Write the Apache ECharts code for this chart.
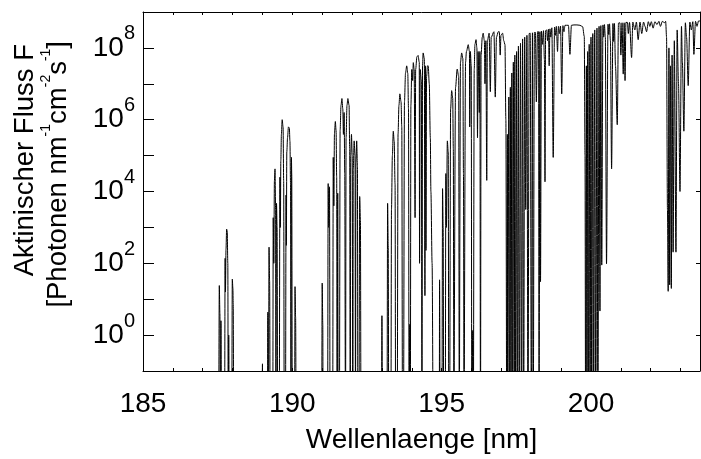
<!DOCTYPE html>
<html>
<head>
<meta charset="utf-8">
<title>Aktinischer Fluss</title>
<script src="https://cdn.jsdelivr.net/npm/echarts@6/dist/echarts.min.js"></script>
<style>
  html, body { margin: 0; padding: 0; background: #fff; }
  .echarts { width: 701px; height: 459px; }
</style>
</head>
<body>
<div class="echarts"></div>
<script>
// spectrum, band by band: [wavelength nm, log10 of flux]
// (-3 = far below the plotted range, the curve is cut at the bottom axis)
const band1 = [[185.0,-3],[187.53,-3],[187.555,1.38],[187.575,0.6],[187.59,-3],[187.61,0.4],[187.63,-3],[187.73,-3],[187.75,2.14],[187.76,1.2],[187.78,2.4],[187.80,2.95],[187.82,2.9],[187.84,2.0],[187.855,-3],[187.87,0.0],[187.89,-3],[187.97,-3],[187.99,1.56],[188.01,1.3],[188.02,0.9],[188.04,-3]];
const band2 = [[188.98,-3],[189.00,-0.8],[189.01,-3],[189.165,-3],[189.18,0.64],[189.20,-3],[189.22,2.45],[189.24,1.5],[189.26,-3],[189.345,-3],[189.36,3.27],[189.38,2.0],[189.40,4.3],[189.42,4.63],[189.44,3.5],[189.45,-3],[189.47,3.67],[189.49,3.0],[189.51,-3],[189.56,-3],[189.585,4.4],[189.60,3.0],[189.615,4.86],[189.635,5.6],[189.66,6.0],[189.69,5.8],[189.71,4.3],[189.73,-3],[189.77,-3],[189.79,3.9],[189.80,2.5],[189.815,5.1],[189.84,5.5],[189.87,5.8],[189.90,5.77],[189.92,5.4],[189.94,4.2],[189.955,-3],[189.97,4.95],[189.98,4.5],[190.00,-3],[190.075,-3],[190.09,1.35],[190.11,0.5],[190.13,-3]];
const band3 = [[190.98,-3],[191.00,1.45],[191.02,0.3],[191.03,-3],[191.18,-3],[191.20,4.22],[191.22,3.0],[191.245,4.13],[191.265,-3],[191.35,-3],[191.37,4.95],[191.39,3.6],[191.41,5.6],[191.44,5.95],[191.465,5.7],[191.485,4.4],[191.50,-3],[191.52,3.95],[191.535,-3],[191.575,-3],[191.60,5.7],[191.63,6.4],[191.66,6.59],[191.69,6.3],[191.71,5.59],[191.735,6.2],[191.755,4.5],[191.78,-3],[191.80,5.5],[191.83,6.4],[191.86,6.59],[191.90,6.4],[191.92,5.2],[191.94,-3],[191.955,5.0],[191.98,5.59],[192.005,5.0],[192.025,-3],[192.04,4.6],[192.07,5.41],[192.10,5.0],[192.115,-3],[192.13,4.8],[192.155,5.41],[192.18,4.7],[192.195,-3],[192.23,-3],[192.255,3.86],[192.28,3.2],[192.30,-3]];
const band4 = [[192.985,-3],[193.00,0.54],[193.02,-3],[193.17,-3],[193.19,3.67],[193.21,2.5],[193.23,-3],[193.30,-3],[193.32,3.5],[193.35,5.0],[193.38,5.68],[193.41,5.4],[193.44,4.2],[193.46,-3],[193.51,-3],[193.54,5.6],[193.57,6.4],[193.60,6.72],[193.64,6.5],[193.665,5.8],[193.69,-3],[193.72,-3],[193.755,6.5],[193.79,7.3],[193.83,7.5],[193.865,7.3],[193.89,6.3],[193.91,-3],[193.93,0.3],[193.95,-3],[193.97,6.4],[194.00,7.4],[194.03,7.09],[194.05,7.59],[194.08,7.4],[194.11,3.27],[194.13,7.4],[194.17,7.75],[194.21,7.79],[194.25,7.6],[194.26,2.0],[194.28,7.4],[194.32,7.1],[194.34,-3],[194.36,7.5],[194.38,7.86],[194.42,7.7],[194.44,1.1],[194.455,7.5],[194.475,2.36],[194.495,7.2],[194.525,7.5],[194.55,7.5],[194.585,7.0],[194.62,5.5],[194.64,4.0],[194.68,2.0],[194.72,-3]];
const band5 = [[194.92,-3],[194.93,1.54],[194.95,-3],[195.01,-3],[195.03,4.08],[195.05,3.0],[195.07,-3],[195.12,-3],[195.14,4.5],[195.16,3.0],[195.19,5.41],[195.22,5.1],[195.24,-3],[195.265,-3],[195.30,6.3],[195.335,6.81],[195.37,6.6],[195.39,5.2],[195.41,-3],[195.43,-3],[195.465,6.9],[195.52,7.41],[195.57,7.2],[195.59,-3],[195.61,-3],[195.63,7.6],[195.67,7.86],[195.71,7.7],[195.73,4.5],[195.75,-3],[195.77,-3],[195.80,7.6],[195.83,7.9],[195.89,8.09],[195.93,7.9],[195.94,5.8],[195.96,7.9],[195.99,7.5],[196.01,-3],[196.04,0.13],[196.06,-3],[196.09,7.4],[196.115,8.1],[196.15,8.23],[196.18,8.0],[196.20,5.5],[196.22,7.9],[196.26,6.2],[196.28,7.9],[196.30,-3],[196.32,7.8],[196.36,8.3],[196.39,8.41],[196.43,8.2],[196.45,7.0],[196.48,8.2],[196.51,4.31],[196.53,8.2],[196.59,8.41],[196.63,6.78],[196.66,8.3],[196.75,8.45],[196.795,6.63],[196.835,8.3],[196.895,8.45],[196.93,8.45],[196.96,7.8],[196.985,8.35],[197.04,8.41],[197.08,8.2],[197.12,8.09],[197.15,6.0],[197.18,-3]];
const band6 = [[197.20,5.59],[197.21,-3],[197.25,6.63],[197.27,-3],[197.30,6.9],[197.32,-3],[197.35,7.3],[197.37,-3],[197.40,7.6],[197.43,-3],[197.45,7.8],[197.48,-3],[197.51,7.9],[197.54,-3],[197.57,8.05],[197.60,-3],[197.64,8.13],[197.675,-3],[197.71,8.25],[197.745,-3],[197.78,8.3],[197.815,3.5],[197.855,8.35],[197.89,-3],[197.93,8.4],[197.965,8.41],[198.005,-3],[198.04,8.42],[198.065,-3],[198.105,8.43],[198.14,8.43],[198.17,6.5],[198.21,8.45],[198.245,8.45],[198.26,-3],[198.29,8.45],[198.31,1.49],[198.34,8.47],[198.375,8.1],[198.41,8.48],[198.44,7.68],[198.46,4.27],[198.48,8.48],[198.515,8.5],[198.545,8.2],[198.575,8.52],[198.60,7.5],[198.625,8.53],[198.655,8.3],[198.69,8.56],[198.735,4.95],[198.78,8.58],[198.81,8.35],[198.84,8.6],[198.88,7.9],[198.91,8.6],[198.945,8.4],[198.98,8.61],[199.02,6.72],[199.06,8.62],[199.095,8.45],[199.13,8.63],[199.18,8.63],[199.245,8.63],[199.295,7.82],[199.345,8.63],[199.43,8.64],[199.53,8.64],[199.63,8.63],[199.72,8.59],[199.775,8.32],[199.80,5.0],[199.82,-3]];
const band7 = [[199.845,7.5],[199.865,-3],[199.89,7.9],[199.915,-3],[199.94,8.1],[199.97,-3],[200.00,8.3],[200.025,-3],[200.06,8.4],[200.09,-3],[200.125,8.5],[200.16,-3],[200.20,8.55],[200.23,-3],[200.27,8.6],[200.30,0.67],[200.33,8.62],[200.36,1.95],[200.40,8.64],[200.425,8.3],[200.45,8.65],[200.48,8.3],[200.52,1.99],[200.57,8.66],[200.595,8.37],[200.62,8.67],[200.65,8.2],[200.69,4.63],[200.735,8.68],[200.76,8.18],[200.785,8.68],[200.82,7.5],[200.88,5.86],[200.92,8.69],[200.97,8.7],[201.00,7.8],[201.04,8.7],[201.08,7.27],[201.11,8.7],[201.14,7.09],[201.17,8.71],[201.22,8.71],[201.25,8.4],[201.29,8.71],[201.36,7.73],[201.40,8.72],[201.47,8.5],[201.52,8.72],[201.58,8.23],[201.64,8.72],[201.70,8.4],[201.76,8.72],[201.81,8.6],[201.86,8.45],[201.92,8.73],[201.97,8.6],[202.02,8.73],[202.08,8.55],[202.14,8.73],[202.21,8.65],[202.275,8.74],[202.325,8.6],[202.39,8.74],[202.46,8.7],[202.50,8.74]];
const band8 = [[202.53,8.3],[202.56,3.5],[202.585,1.22],[202.61,8.0],[202.635,1.4],[202.66,7.5],[202.69,1.3],[202.715,7.8],[202.75,2.31],[202.79,8.2],[202.845,2.31],[202.885,8.5],[202.93,7.0],[202.98,4.0],[203.03,8.6],[203.06,7.6],[203.11,5.68],[203.16,8.7],[203.20,8.3],[203.255,6.95],[203.31,8.72],[203.36,8.5],[203.41,8.73],[203.445,7.82],[203.50,8.74],[203.55,8.6],[203.60,8.75],[203.65,8.75]];

const xLabels = [185, 190, 195, 200];
const xTicks = [186, 187, 188, 189, 190, 191, 192, 193, 194, 195, 196, 197, 198, 199, 200, 201, 202, 203];
const yLabels = [0, 2, 4, 6, 8];        // exponents shown as 10^n
const yTicks = [0, 1, 2, 3, 4, 5, 6, 7, 8];

window.addEventListener('load', function () {
    let myChart = echarts.init(document.querySelector('.echarts'));
    const font = 'Liberation Sans';
    const spectrum = [].concat(band1, band2, band3, band4, band5, band6, band7, band8);
    const frame = { onZero: false, lineStyle: { color: '#000', width: 1 } };

    let option = {
        animation: false,
        grid: { left: 143, right: 1, top: 12, bottom: 81 },
        xAxis: [{
            type: 'value', position: 'bottom', min: 185, max: 203.65,
            axisLine: frame,
            axisTick: { inside: true, length: 3, customValues: xTicks, lineStyle: { color: '#000' } },
            axisLabel: {
                customValues: xLabels, margin: 19, color: '#000',
                fontSize: 28, fontFamily: font,
                formatter: function (v) { return String(v); }
            },
            splitLine: { show: false },
            name: 'Wellenlaenge [nm]', nameLocation: 'middle', nameGap: 55,
            nameTextStyle: { color: '#000', fontSize: 28, fontFamily: font }
        }, {
            type: 'value', position: 'top', min: 185, max: 203.65,
            axisLine: frame,
            axisTick: { inside: true, length: 3, customValues: xTicks, lineStyle: { color: '#000' } },
            axisLabel: { show: false },
            splitLine: { show: false }
        }],
        yAxis: [{
            type: 'value', position: 'left', min: -1, max: 9, interval: 1,
            axisLine: frame,
            axisTick: { inside: true, length: 11, customValues: yTicks, lineStyle: { color: '#000' } },
            axisLabel: {
                customValues: yLabels, margin: 8,
                formatter: function (v) { return '{b|10}{s|' + v + '}'; },
                rich: {
                    b: { fontSize: 28, lineHeight: 28, fontFamily: font, color: '#000' },
                    s: { fontSize: 20, lineHeight: 20, fontFamily: font, color: '#000', padding: [0, 0, 28, 0] }
                }
            },
            splitLine: { show: false }
        }, {
            type: 'value', position: 'right', min: -1, max: 9, interval: 1,
            axisLine: frame,
            axisTick: { inside: true, length: 4, customValues: yLabels, lineStyle: { color: '#000' } },
            axisLabel: { show: false },
            splitLine: { show: false }
        }],
        graphic: [{
            type: 'text', x: 25, y: 44, rotation: Math.PI / 2, silent: true,
            style: {
                text: 'Aktinischer Fluss F', fontSize: 27.5, fontFamily: font, fill: '#000',
                align: 'right', verticalAlign: 'middle'
            }
        }, {
            type: 'text', x: 58, y: 41, rotation: Math.PI / 2, silent: true,
            style: {
                text: '{n|[Photonen nm}{s|-1}{n|cm}{s|-2}{n|s}{s|-1}{n|]}',
                align: 'right', verticalAlign: 'middle',
                rich: {
                    n: { fontSize: 27.5, lineHeight: 28, fontFamily: font, fill: '#000' },
                    s: { fontSize: 14, lineHeight: 14, fontFamily: font, fill: '#000', padding: [0, 0, 23, 0] }
                }
            }
        }],
        series: [{
            type: 'line',
            data: spectrum,
            showSymbol: false,
            symbol: 'none',
            smooth: 0.3,
            smoothMonotone: 'x',
            clip: true,
            silent: true,
            lineStyle: { color: '#000', width: 1 }
        }]
    };
    myChart.setOption(option);
});
</script>
</body>
</html>
